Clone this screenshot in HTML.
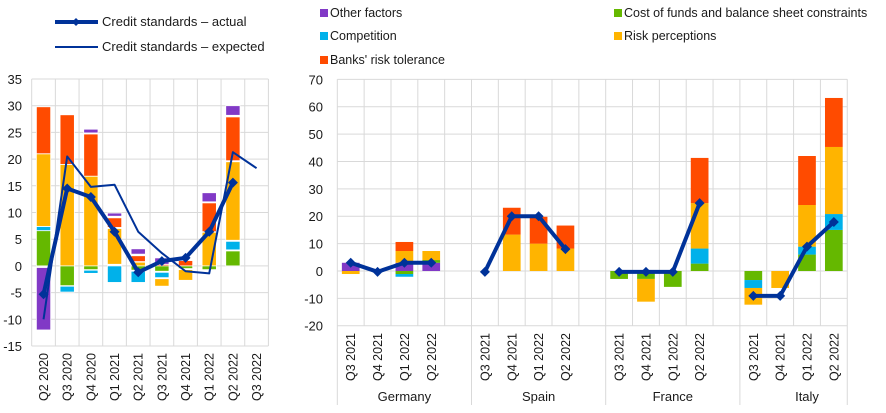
<!DOCTYPE html>
<html><head><meta charset="utf-8"><style>
html,body{margin:0;padding:0;background:#fff}
svg{display:block;font-family:"Liberation Sans",Arial,sans-serif}
text{fill:#1a1a1a}
</style></head><body>
<svg id="s" width="886" height="413" viewBox="0 0 886 413" xmlns="http://www.w3.org/2000/svg">
<g id="grid"></g><g id="bars"></g><g id="lines"></g>
<line x1="55" y1="22" x2="98" y2="22" stroke="#003299" stroke-width="4"/>
<path d="M76 18 L80 22 L76 26 L72 22Z" fill="#003299"/>
<text x="102" y="26" font-size="13">Credit standards – actual</text>
<line x1="55" y1="47" x2="98" y2="47" stroke="#003299" stroke-width="2"/>
<text x="102" y="51" font-size="13">Credit standards – expected</text>
<rect x="320" y="9" width="8" height="8" fill="#8139c6"/><text x="330" y="17" font-size="12.5">Other factors</text>
<rect x="320" y="32" width="8" height="8" fill="#00b1ea"/><text x="330" y="40" font-size="12.5">Competition</text>
<rect x="320" y="56" width="8" height="8" fill="#ff4b00"/><text x="330" y="64" font-size="12.5">Banks' risk tolerance</text>
<rect x="614" y="9" width="8" height="8" fill="#65b800"/><text x="624" y="17" font-size="12.5">Cost of funds and balance sheet constraints</text>
<rect x="614" y="32" width="8" height="8" fill="#ffb400"/><text x="624" y="40" font-size="12.5">Risk perceptions</text>
<g font-size="13" text-anchor="end">
<text x="22" y="84">35</text><text x="22" y="110.7">30</text><text x="22" y="137.5">25</text><text x="22" y="164.2">20</text><text x="22" y="190.9">15</text><text x="22" y="217.6">10</text><text x="22" y="244.2">5</text><text x="22" y="270.9">0</text><text x="22" y="297.6">-5</text><text x="22" y="324.3">-10</text><text x="22" y="351">-15</text>
<text x="323" y="84.3">70</text><text x="323" y="111.7">60</text><text x="323" y="139.1">50</text><text x="323" y="166.5">40</text><text x="323" y="193.8">30</text><text x="323" y="221.2">20</text><text x="323" y="248.6">10</text><text x="323" y="276">0</text><text x="323" y="303.4">-10</text><text x="323" y="330.7">-20</text>
</g>
<g font-size="12.5" text-anchor="end">
<text transform="translate(48,353) rotate(-90)">Q2 2020</text>
<text transform="translate(71.7,353) rotate(-90)">Q3 2020</text>
<text transform="translate(95.3,353) rotate(-90)">Q4 2020</text>
<text transform="translate(119,353) rotate(-90)">Q1 2021</text>
<text transform="translate(142.7,353) rotate(-90)">Q2 2021</text>
<text transform="translate(166.3,353) rotate(-90)">Q3 2021</text>
<text transform="translate(190,353) rotate(-90)">Q4 2021</text>
<text transform="translate(213.7,353) rotate(-90)">Q1 2022</text>
<text transform="translate(237.4,353) rotate(-90)">Q2 2022</text>
<text transform="translate(261,353) rotate(-90)">Q3 2022</text>
</g>
<g font-size="12.5" text-anchor="end">
<text transform="translate(355.2,333) rotate(-90)">Q3 2021</text>
<text transform="translate(382.1,333) rotate(-90)">Q4 2021</text>
<text transform="translate(408.9,333) rotate(-90)">Q1 2022</text>
<text transform="translate(435.8,333) rotate(-90)">Q2 2022</text>
<text transform="translate(489.5,333) rotate(-90)">Q3 2021</text>
<text transform="translate(516.3,333) rotate(-90)">Q4 2021</text>
<text transform="translate(543.2,333) rotate(-90)">Q1 2022</text>
<text transform="translate(570,333) rotate(-90)">Q2 2022</text>
<text transform="translate(623.7,333) rotate(-90)">Q3 2021</text>
<text transform="translate(650.5,333) rotate(-90)">Q4 2021</text>
<text transform="translate(677.4,333) rotate(-90)">Q1 2022</text>
<text transform="translate(704.2,333) rotate(-90)">Q2 2022</text>
<text transform="translate(757.9,333) rotate(-90)">Q3 2021</text>
<text transform="translate(784.7,333) rotate(-90)">Q4 2021</text>
<text transform="translate(811.6,333) rotate(-90)">Q1 2022</text>
<text transform="translate(838.4,333) rotate(-90)">Q2 2022</text>
</g>
<g font-size="13" text-anchor="middle">
<text x="404.4" y="401">Germany</text><text x="538.6" y="401">Spain</text><text x="672.8" y="401">France</text><text x="807" y="401">Italy</text>
</g>
</svg>
<script>
var NS="http://www.w3.org/2000/svg";
function el(p,t,a){var e=document.createElementNS(NS,t);for(var k in a)e.setAttribute(k,a[k]);document.getElementById(p).appendChild(e);return e;}
var C={p:"#8139c6",g:"#65b800",b:"#00b1ea",y:"#ffb400",o:"#ff4b00"};
var L={x0:31.7,x1:268.3,sl:23.67,z:265.9,k:5.34,yt:79,yb:346,bw:14.3};
for(var v=-15;v<=35;v+=5){var y=L.z-L.k*v;el("grid","line",{x1:L.x0,x2:L.x1,y1:y,y2:y,stroke:"#d9d9d9","stroke-width":1});}
for(var i=0;i<=10;i++){var x=L.x0+L.sl*i;el("grid","line",{x1:x,x2:x,y1:L.yt,y2:L.yb,stroke:"#d9d9d9","stroke-width":1});}
var LB=[
[["g",0,6.6],["b",6.6,7.4],["y",7.4,21],["o",21,29.8],["p",-0.3,-12]],
[["y",0,19],["o",19,28.3],["g",0,-3.7],["b",-3.8,-4.9]],
[["y",0,16.8],["o",16.8,24.7],["p",24.9,25.6],["g",0,-0.7],["b",-0.8,-1.4]],
[["y",0.3,7],["o",7.2,9],["p",9.3,9.9],["b",0,-3.1]],
[["y",0,0.7],["o",0.8,1.9],["p",2.2,3.2],["g",0,-0.8],["b",-1,-3.1]],
[["o",0,0.3],["p",0.3,1.5],["g",0,-1],["b",-1.2,-2.2],["y",-2.4,-3.8]],
[["o",0,1],["g",0,-0.5],["y",-0.7,-2.7]],
[["y",0,6.3],["o",6.4,11.8],["p",12,13.7],["g",0,-0.7]],
[["g",0,2.8],["b",3,4.6],["y",4.8,19.5],["o",19.7,27.9],["p",28.2,30]],
[]];
LB.forEach(function(s,i){var cx=L.x0+L.sl*(i+0.5);s.forEach(function(b){var a=L.z-L.k*b[1],c=L.z-L.k*b[2];el("bars","rect",{x:cx-L.bw/2,y:Math.min(a,c),width:L.bw,height:Math.abs(a-c),fill:C[b[0]],stroke:"#fff","stroke-width":0.8});});});
function pts(P,vals,idx){return vals.map(function(v,j){return [P.x0+P.sl*(idx[j]+0.5),P.z-P.k*v];});}
function line(p,w){el("lines","polyline",{points:p.map(function(q){return q.join(",")}).join(" "),fill:"none",stroke:"#003299","stroke-width":w,"stroke-linejoin":"round"});}
function dia(p,r){p.forEach(function(q){el("lines","path",{d:"M"+q[0]+" "+(q[1]-r)+"L"+(q[0]+r)+" "+q[1]+"L"+q[0]+" "+(q[1]+r)+"L"+(q[0]-r)+" "+q[1]+"Z",fill:"#003299"});});}
var exp=pts(L,[-10,20.5,14.8,15.2,6.4,2.4,-1,-1.4,21.3,18.3],[0,1,2,3,4,5,6,7,8,9]);line(exp,2);
var act=pts(L,[-5.3,14.5,12.9,6.4,-1.2,0.9,1.5,6.4,15.6],[0,1,2,3,4,5,6,7,8]);line(act,4);dia(act,5);
var R={x0:337.3,x1:847.3,sl:26.84,z:271,k:2.738,yt:79.3,yb:325.7,bw:17.7};
for(var v=-20;v<=70;v+=10){var y=R.z-R.k*v;el("grid","line",{x1:R.x0,x2:R.x1,y1:y,y2:y,stroke:"#d9d9d9","stroke-width":1});}
for(var i=0;i<=19;i++){var x=R.x0+R.sl*i;var ext=(i%5==0||i==19)?405:R.yb;el("grid","line",{x1:x,x2:x,y1:R.yt,y2:ext,stroke:"#d9d9d9","stroke-width":1});}
var RB={
0:[["p",0,3],["y",0,-1.1]],
2:[["p",0,3],["y",3,7.3],["o",7.3,10.6],["g",0,-1.1],["b",-1.1,-2.1]],
3:[["p",0,3],["g",3,4],["y",4,7.3]],
6:[["y",0,13.3],["o",13.3,23.1]],
7:[["y",0,10],["o",10,19.8]],
8:[["y",0,8.2],["o",8.2,16.6]],
10:[["g",0,-2.9]],
11:[["g",0,-2.9],["y",-2.9,-11.2]],
12:[["g",0,-5.8]],
13:[["g",0,2.7],["b",2.7,8.2],["y",8.2,24.8],["o",24.8,41.3]],
15:[["g",0,-3.3],["b",-3.3,-6.2],["y",-6.2,-12.3]],
16:[["y",0,-6.2]],
17:[["g",0,6],["b",6,8.9],["y",8.9,24.1],["o",24.1,42]],
18:[["g",0,15],["b",15,20.8],["y",20.8,45.3],["o",45.3,63.2]]};
for(var s in RB){var cx=R.x0+R.sl*(+s+0.5);RB[s].forEach(function(b){var a=R.z-R.k*b[1],c=R.z-R.k*b[2];el("bars","rect",{x:cx-R.bw/2,y:Math.min(a,c),width:R.bw,height:Math.abs(a-c),fill:C[b[0]]});});}
[[[3,-0.3,3,3],[0,1,2,3]],[[-0.3,20,20,8],[5,6,7,8]],[[-0.3,-0.3,-0.3,24.8],[10,11,12,13]],[[-9.1,-9.1,8.9,17.9],[15,16,17,18]]].forEach(function(g){var p=pts(R,g[0],g[1]);line(p,4);dia(p,5);});
</script>
</body></html>
